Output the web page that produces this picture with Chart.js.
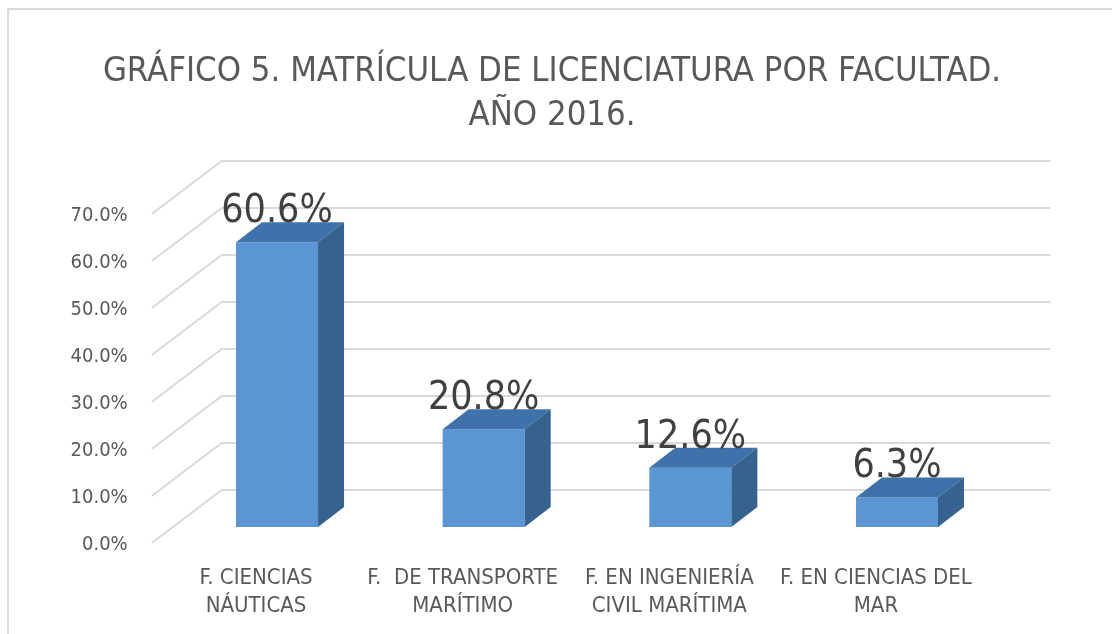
<!DOCTYPE html>
<html>
<head>
<meta charset="utf-8">
<script src="https://cdn.jsdelivr.net/npm/chart.js@4.4.1/dist/chart.umd.min.js"></script>
<style>
  html, body { margin: 0; padding: 0; background: #fff; }
  #wrap { position: relative; width: 1112px; height: 634px; }
</style>
</head>
<body>
<div id="wrap"><canvas id="grafico" width="1112" height="634"></canvas></div>
<script>
// Datos del gráfico
const facultades = [
  ['F. CIENCIAS', 'NÁUTICAS'],
  ['F.  DE TRANSPORTE', 'MARÍTIMO'],
  ['F. EN INGENIERÍA', 'CIVIL MARÍTIMA'],
  ['F. EN CIENCIAS DEL', 'MAR']
];
const matricula = [60.6, 20.8, 12.6, 6.3];
const ticksY = [0, 10, 20, 30, 40, 50, 60, 70];
const titulo = ['GRÁFICO 5. MATRÍCULA DE LICENCIATURA POR FACULTAD.', 'AÑO 2016.'];

const fuente = "'Liberation Sans Narrow', 'DejaVu Sans Condensed', sans-serif";

// Marco, pared del fondo y efecto 3D
const marco = {
    id: 'marco',
    beforeDraw(chart) {
        const ctx = chart.ctx;
        ctx.save();
        ctx.strokeStyle = '#d9d9d9';
        ctx.lineWidth = 2;
        ctx.beginPath();
        ctx.moveTo(8, 634);
        ctx.lineTo(8, 9);
        ctx.lineTo(1112, 9);
        ctx.stroke();
        ctx.restore();
    }
};

const paredFondo = {
    id: 'paredFondo',
    beforeDatasetsDraw(chart) {
        const ctx = chart.ctx;
        const y = chart.scales.y;
        const area = chart.chartArea;
        ctx.save();
        ctx.strokeStyle = '#d9d9d9';
        ctx.lineWidth = 2;
        ticksY.forEach(v => {
            const py = y.getPixelForValue(v);
            ctx.beginPath();
            ctx.moveTo(area.left - 22, py + 16);
            ctx.lineTo(area.left + 48, py - 37);
            ctx.lineTo(area.right + 50, py - 37);
            ctx.stroke();
        });
        ctx.restore();
    }
};

const barras3d = {
    id: 'barras3d',
    afterDatasetsDraw(chart) {
        const ctx = chart.ctx;
        const meta = chart.getDatasetMeta(0);
        const dx = 26, dy = 20;
        ctx.save();
        meta.data.forEach((bar, i) => {
            const p = bar.getProps(['x', 'y', 'base', 'width'], true);
            const l = p.x - p.width / 2;
            const r = p.x + p.width / 2;
            // cara superior
            ctx.fillStyle = '#3f71aa';
            ctx.beginPath();
            ctx.moveTo(l, p.y);
            ctx.lineTo(r, p.y);
            ctx.lineTo(r + dx, p.y - dy);
            ctx.lineTo(l + dx, p.y - dy);
            ctx.closePath();
            ctx.fill();
            // cara lateral
            ctx.fillStyle = '#35628f';
            ctx.beginPath();
            ctx.moveTo(r, p.y);
            ctx.lineTo(r + dx, p.y - dy);
            ctx.lineTo(r + dx, p.base - dy);
            ctx.lineTo(r, p.base);
            ctx.closePath();
            ctx.fill();
            // etiqueta
            ctx.fillStyle = '#404040';
            ctx.font = '39px ' + fuente;
            ctx.textAlign = 'center';
            ctx.textBaseline = 'alphabetic';
            ctx.fillText(matricula[i].toFixed(1) + '%', p.x, p.y - 20);
        });
        ctx.restore();
    }
};

const ctx = document.getElementById('grafico').getContext('2d');
new Chart(ctx, {
    type: 'bar',
    data: {
        labels: facultades,
        datasets: [{
            data: matricula,
            backgroundColor: '#5a96d3',
            borderWidth: 0,
            categoryPercentage: 1,
            barPercentage: 0.397
        }]
    },
    options: {
        responsive: false,
        animation: false,
        layout: { padding: { left: 0, right: 8, top: 0, bottom: 0 } },
        plugins: {
            legend: { display: false },
            tooltip: { enabled: false },
            title: {
                display: true,
                text: titulo,
                color: '#595959',
                font: { family: fuente, size: 34.4, weight: 'normal', lineHeight: '44px' },
                padding: { top: 50, bottom: 60 }
            }
        },
        scales: {
            x: {
                grid: { display: false, drawTicks: false },
                border: { display: false },
                ticks: {
                    color: '#595959',
                    font: { family: fuente, size: 22, lineHeight: '28px' },
                    padding: 37,
                    labelOffset: -21,
                    maxRotation: 0,
                    autoSkip: false
                },
                afterFit(s) { s.height = 107; }
            },
            y: {
                min: 0,
                max: 70,
                grid: { display: false, drawTicks: false },
                border: { display: false },
                afterBuildTicks(s) { s.ticks = ticksY.map(v => ({ value: v })); },
                ticks: {
                    color: '#595959',
                    font: { family: fuente, size: 20 },
                    padding: 46,
                    labelOffset: 18,
                    callback: v => v.toFixed(1) + '%'
                },
                afterFit(s) { s.width = 173.7; }
            },
            // eje vacío a la derecha para reservar el espacio de la pared del fondo
            yDer: {
                position: 'right',
                grid: { display: false, drawTicks: false },
                border: { display: false },
                ticks: { display: false },
                afterFit(s) { s.width = 103.7; }
            }
        }
    },
    plugins: [marco, paredFondo, barras3d]
});
</script>
</body>
</html>
